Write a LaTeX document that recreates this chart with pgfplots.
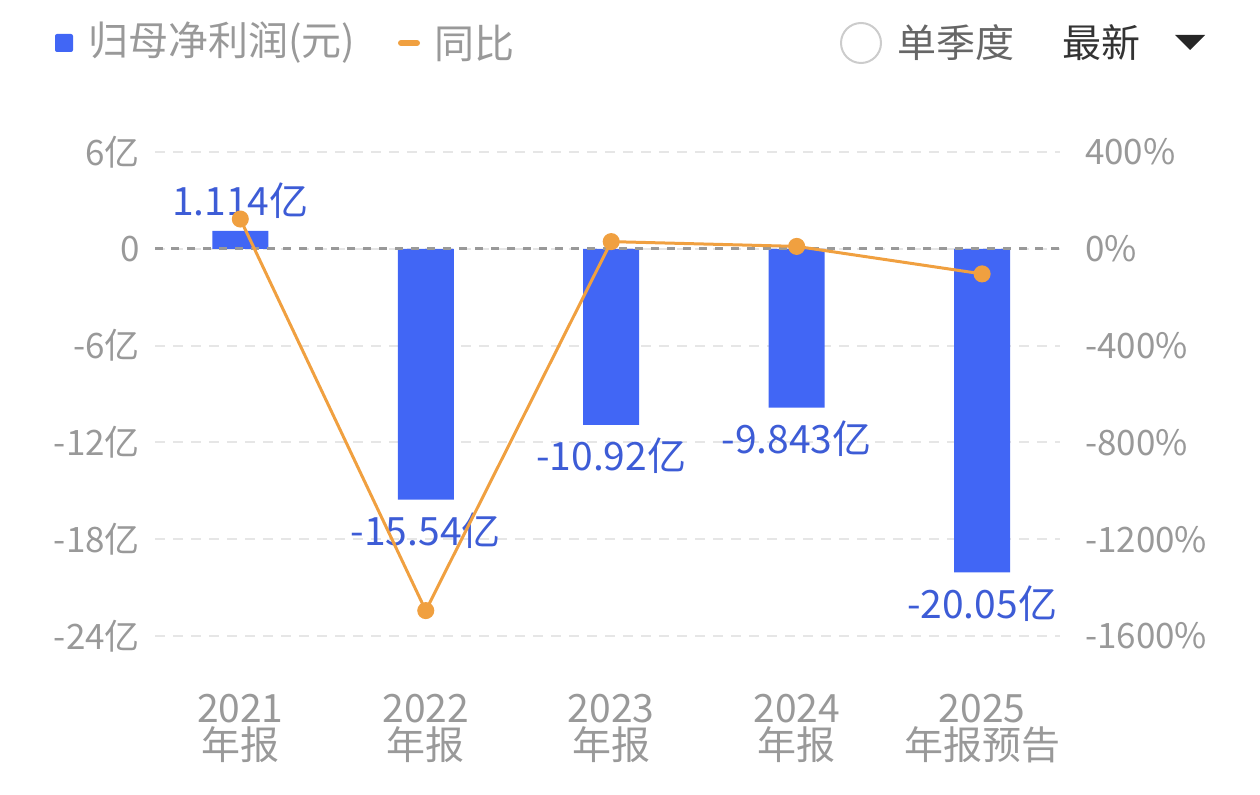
\documentclass[border=0pt]{standalone}
\usepackage{pgfplots}
\pgfplotsset{compat=1.18}
\usepackage{fontspec}
\setmainfont{Noto Sans CJK SC}

\definecolor{barblue}{HTML}{4166F5}
\definecolor{lblblue}{HTML}{3D5CD6}
\definecolor{lineorange}{HTML}{F0A040}
\definecolor{tickgray}{HTML}{999999}
\definecolor{gridgray}{HTML}{E6E6E6}

\begin{document}
\begin{tikzpicture}
  \path (0,0) rectangle (630pt,397pt);

  % legend
  \fill[barblue, rounded corners=1pt] (27.5pt,371pt) rectangle (36.5pt,380pt);
  \node[anchor=west, inner sep=0, text=tickgray, font=\fontsize{20}{20}\selectfont] at (44pt,375.5pt) {归母净利润(元)};
  \draw[lineorange, line width=3pt, line cap=round] (200.5pt,375.5pt) -- (208.5pt,375.5pt);
  \node[anchor=west, inner sep=0, text=tickgray, font=\fontsize{20}{20}\selectfont] at (217pt,375.5pt) {同比};
  \draw[black!20, line width=1pt] (430.5pt,375.5pt) circle (10pt);
  \node[anchor=west, inner sep=0, text=black!60, font=\fontsize{19.5}{19.5}\selectfont] at (448.5pt,375.5pt) {单季度};
  \node[anchor=west, inner sep=0, text=black!80, font=\fontsize{19.5}{19.5}\selectfont] at (531pt,375.5pt) {最新};
  \fill[black!85] (587.5pt,379.5pt) -- (602.5pt,379.5pt) -- (595pt,372pt) -- cycle;

  \begin{axis}[
      at={(77.5pt,79pt)}, anchor=south west,
      scale only axis,
      width=452.5pt, height=242pt,
      xmin=-0.46, xmax=4.42,
      ymin=-24, ymax=6,
      ytick={-24,-18,-12,-6,0,6},
      yticklabels={-24亿,-18亿,-12亿,-6亿,0,6亿},
      xtick={0,1,2,3,4},
      xticklabels={2021\\年报,2022\\年报,2023\\年报,2024\\年报,2025\\年报预告},
      xticklabel style={align=center, text=tickgray, font=\fontsize{19.5}{18.5}\selectfont, yshift=-25.5pt},
      yticklabel style={text=tickgray, font=\fontsize{17.5}{17.5}\selectfont, xshift=-4pt},
      axis line style={draw=none},
      major tick style={draw=none},
      ymajorgrids=true,
      major grid style={gridgray, line width=1pt, dash pattern=on 5pt off 4pt},
      clip=false,
    ]
    \addplot[ybar, bar width=28pt, fill=barblue, draw=none]
    coordinates {
        (0, 1.114)
        (1, -15.54)
        (2, -10.92)
        (3, -9.843)
        (4, -20.05)
      };
    \draw[tickgray, line width=1.5pt, dash pattern=on 4pt off 4pt] (axis cs:-0.46,0) -- (axis cs:4.42,0);

    \node[text=lblblue, font=\fontsize{19.5}{19.5}\selectfont] at (axis cs:0,1.114) [yshift=15pt] {1.114亿};
    \node[text=lblblue, font=\fontsize{19.5}{19.5}\selectfont] at (axis cs:1,-15.54) [yshift=-15.5pt] {-15.54亿};
    \node[text=lblblue, font=\fontsize{19.5}{19.5}\selectfont] at (axis cs:2,-10.92) [yshift=-15.5pt] {-10.92亿};
    \node[text=lblblue, font=\fontsize{19.5}{19.5}\selectfont] at (axis cs:3,-9.843) [yshift=-15.5pt] {-9.843亿};
    \node[text=lblblue, font=\fontsize{19.5}{19.5}\selectfont] at (axis cs:4,-20.05) [yshift=-15.5pt] {-20.05亿};
  \end{axis}

  \begin{axis}[
      at={(77.5pt,79pt)}, anchor=south west,
      scale only axis,
      width=452.5pt, height=242pt,
      xmin=-0.46, xmax=4.42,
      ymin=-1600, ymax=400,
      ytick={-1600,-1200,-800,-400,0,400},
      yticklabels={-1600\%,-1200\%,-800\%,-400\%,0\%,400\%},
      yticklabel pos=right,
      xtick=\empty,
      yticklabel style={text=tickgray, font=\fontsize{17.5}{17.5}\selectfont, xshift=9pt},
      axis line style={draw=none},
      major tick style={draw=none},
      clip=false,
    ]
    \addplot[lineorange, line width=1.5pt, mark=*, mark size=3.5pt, mark options={fill=lineorange, draw=lineorange}]
    coordinates {
        (0, 123)
        (1, -1495)
        (2, 29.7)
        (3, 9.9)
        (4, -103.7)
      };
  \end{axis}
\end{tikzpicture}
\end{document}
